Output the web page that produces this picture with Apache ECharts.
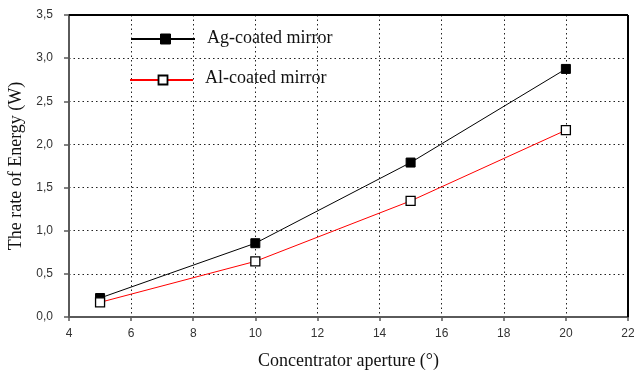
<!DOCTYPE html>
<html><head><meta charset="utf-8">
<script src="https://cdn.jsdelivr.net/npm/echarts@6/dist/echarts.min.js"></script>
<style>html,body{margin:0;padding:0;background:#fff}#c{width:634px;height:370px}</style>
</head><body><div id="c"></div>
<script>
const apertures = [5, 10, 15, 20];
const agValues = [0.22, 0.855, 1.79, 2.875];
const alValues = [0.17, 0.645, 1.345, 2.165];
const seriesNames = ['Ag-coated mirror', 'Al-coated mirror'];
const xAxisTitle = 'Concentrator aperture (\u00b0)';
const yAxisTitle = 'The rate of Energy (W)';

const chart = echarts.init(document.getElementById('c'), null, {renderer: 'canvas'});
const serif = '"Liberation Serif", "Times New Roman", serif';
const sans = '"Liberation Sans", Arial, sans-serif';
const dotted = {type: [1.5, 3], color: '#222', width: 1};

chart.setOption({
  animation: false,
  backgroundColor: '#fff',
  grid: {left: 69, right: 6, top: 15, bottom: 53, show: false, containLabel: false, outerBoundsMode: 'none'},
  xAxis: {
    type: 'value', min: 4, max: 22, interval: 2,
    axisLine: {show: true, onZero: false, lineStyle: {color: '#5a5a5a', width: 2}},
    axisTick: {show: true, length: 4, lineStyle: {color: '#5a5a5a', width: 1.5}},
    axisLabel: {color: '#333', fontFamily: sans, fontSize: 12, margin: 11, hideOverlap: false},
    splitLine: {show: true, lineStyle: dotted},
    name: xAxisTitle, nameLocation: 'middle', nameGap: 35,
    nameTextStyle: {fontFamily: serif, fontSize: 18, color: '#111'}
  },
  yAxis: {
    type: 'value', min: 0, max: 3.5, interval: 0.5,
    axisLine: {show: true, lineStyle: {color: '#5a5a5a', width: 2}},
    axisTick: {show: true, length: 5, lineStyle: {color: '#5a5a5a', width: 1.5}},
    axisLabel: {color: '#333', fontFamily: sans, fontSize: 12, margin: 16,
      formatter: v => v.toFixed(1).replace('.', ',')},
    splitLine: {show: true, lineStyle: dotted},
    name: yAxisTitle, nameLocation: 'middle', nameGap: 42,
    nameTextStyle: {fontFamily: serif, fontSize: 18, color: '#111'}
  },
  series: [
    {
      name: seriesNames[0], type: 'line',
      data: apertures.map((x, i) => [x, agValues[i]]),
      symbol: 'rect', symbolSize: 9,
      lineStyle: {color: '#000', width: 1},
      itemStyle: {color: '#000', borderColor: '#000', borderWidth: 1}
    },
    {
      name: seriesNames[1], type: 'line',
      data: apertures.map((x, i) => [x, alValues[i]]),
      symbol: 'rect', symbolSize: 9,
      lineStyle: {color: '#ff0000', width: 1},
      itemStyle: {color: '#fff', borderColor: '#000', borderWidth: 1.3}
    }
  ],
  graphic: [
    {type: 'line', shape: {x1: 69, y1: 15, x2: 628, y2: 15}, style: {stroke: '#000', lineWidth: 2}, z: 10},
    {type: 'line', shape: {x1: 628, y1: 15, x2: 628, y2: 317}, style: {stroke: '#000', lineWidth: 2}, z: 10},
    {type: 'line', shape: {x1: 131, y1: 39, x2: 195, y2: 39}, style: {stroke: '#000', lineWidth: 2}, z: 10},
    {type: 'rect', shape: {x: 160.5, y: 34, width: 10, height: 10}, style: {fill: '#000', stroke: '#000'}, z: 11},
    {type: 'text', style: {x: 207, y: 38, text: seriesNames[0], font: '18px ' + serif, fill: '#111', verticalAlign: 'middle'}, z: 11},
    {type: 'line', shape: {x1: 130, y1: 80, x2: 193, y2: 80}, style: {stroke: '#ff0000', lineWidth: 2}, z: 10},
    {type: 'rect', shape: {x: 158.5, y: 75.5, width: 9, height: 9}, style: {fill: '#fff', stroke: '#000', lineWidth: 1.8}, z: 11},
    {type: 'text', style: {x: 205, y: 78, text: seriesNames[1], font: '18px ' + serif, fill: '#111', verticalAlign: 'middle'}, z: 11}
  ]
});
</script></body></html>
